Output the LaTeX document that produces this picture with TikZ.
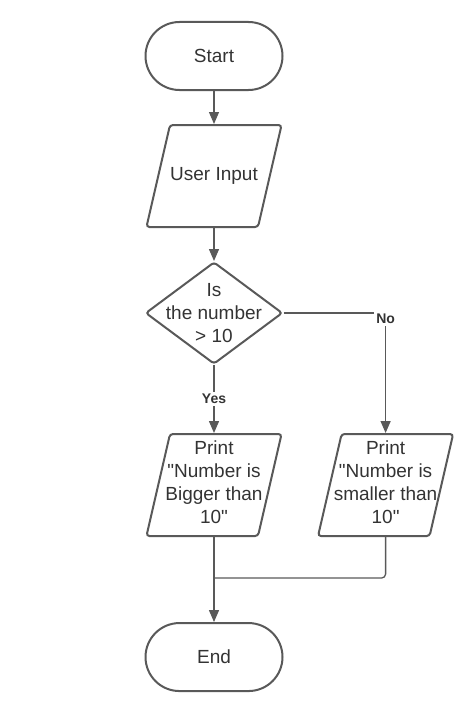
\documentclass[tikz,border=0pt]{standalone}
\usepackage{fontspec}
\setmainfont{Liberation Sans}[Ligatures=TeXOff]
\usetikzlibrary{shapes.geometric,arrows.meta,positioning}
\definecolor{linegray}{HTML}{595959}
\definecolor{textgray}{HTML}{333333}

\begin{document}
\begin{tikzpicture}[
    x=1pt, y=1pt,
    node distance=33pt,
    font=\fontsize{19}{23}\selectfont,
    terminal/.style={rectangle, draw=linegray, line width=2pt, rounded corners=34pt, minimum width=137pt, minimum height=68pt, inner sep=0pt},
    io/.style={trapezium, trapezium left angle=77, trapezium right angle=103, draw=linegray, line width=2pt, rounded corners=3pt, inner xsep=44pt, inner ysep=51pt},
    decision/.style={diamond, draw=linegray, line width=2pt, rounded corners=3pt, minimum width=137pt, minimum height=102pt, inner sep=0pt},
    inner text/.style={align=center, text=textgray},
    branch/.style={fill=white, text=textgray, font=\fontsize{14}{16}\selectfont\bfseries, inner sep=2pt},
    arrow/.style={-{Triangle[length=12pt, width=10pt]}, draw=linegray, line width=1.3pt},
    line/.style={draw=linegray, line width=1.3pt}
]
    \useasboundingbox (0,0) rectangle (463,-709);

    \node[terminal, label={[inner text]center:Start}] (start) at (214,-56) {};
    \node[io, below=of start, label={[inner text]center:User Input}] (input) {};
    \node[decision, below=of input, label={[inner text]center:Is\\the number\\> 10}] (check) {};
    \node[io, below=68pt of check, label={[inner text, yshift=3pt]center:Print\\"Number is\\Bigger than\\10"}] (printbig) {};
    \node[io, right=58pt of printbig, label={[inner text, yshift=3pt]center:Print\\"Number is\\smaller than\\10"}] (printsmall) {};
    \node[terminal, below=85pt of printbig, label={[inner text]center:End}] (stop) {};
    \coordinate[below=41pt of printbig.south] (join);

    \draw[arrow] (start) -- (input);
    \draw[arrow] (input) -- (check);
    \draw[arrow] (check) -- node[branch] (yes) {Yes} (printbig);
    \draw[arrow] (check) -| node[branch, pos=0.5, yshift=-6pt] (no) {No} (printsmall);
    \draw[line, rounded corners=4pt] (printsmall) |- (join);
    \draw[arrow] (printbig) -- (stop);
\end{tikzpicture}
\end{document}
